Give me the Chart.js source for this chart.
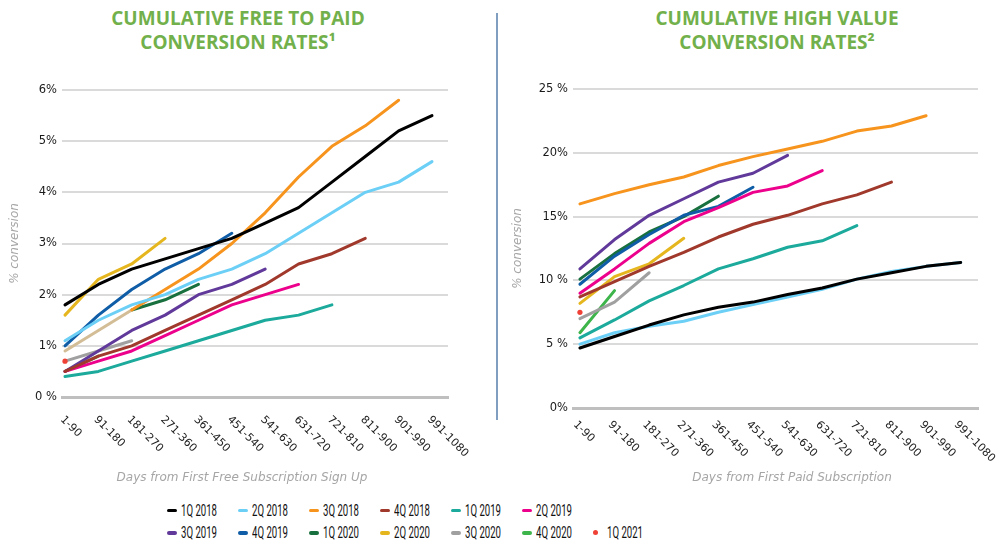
<!DOCTYPE html>
<html>
<head>
<meta charset="utf-8">
<script src="https://cdn.jsdelivr.net/npm/chart.js@4.4.1/dist/chart.umd.min.js"></script>
<style>
    body { margin: 0; background: #fff; }
    #page { position: relative; width: 997px; height: 544px; overflow: hidden; }
    .chart-title {
        position: absolute; top: 6px; margin: 0; text-align: center;
        font-family: 'Open Sans', sans-serif; font-weight: 700; font-size: 19px;
        line-height: 24px; color: #72B04C;
    }
    #title-left { left: 0; width: 476px; }
    #title-right { left: 557px; width: 440px; }
    .x-title {
        position: absolute; top: 468px; text-align: center; white-space: nowrap;
        font-family: 'DejaVu Sans', sans-serif; font-style: italic; font-size: 12px;
        line-height: 18px; color: #A6A6A6;
    }
    #xtitle-left { left: 42px; width: 400px; }
    #xtitle-right { left: 592px; width: 400px; }
    #divider { position: absolute; left: 496px; top: 13px; width: 2px; height: 407px; background: #7F9EC0; }
    canvas { position: absolute; top: 0; }
    #ftp-canvas { left: 0; }
    #hv-canvas { left: 497px; }
    #legend {
        position: absolute; left: 167px; top: 499px;
        font-family: 'Roboto', sans-serif; font-size: 16px; color: #111;
    }
    .legend-row { display: flex; height: 22.6px; align-items: center; }
    .legend-item { width: 71px; display: flex; align-items: center; white-space: nowrap; }
    .legend-line { width: 10px; height: 3.5px; border-radius: 2px; margin-right: 4px; flex: none; }
    .legend-dot { width: 5px; height: 5px; border-radius: 50%; margin: 0 9px 0 0; flex: none; }
    .legend-text { display: inline-block; transform: scaleX(0.6); transform-origin: left center; }
</style>
</head>
<body>
<div id="page">
    <h2 class="chart-title" id="title-left">CUMULATIVE FREE TO PAID<br>CONVERSION RATES¹</h2>
    <h2 class="chart-title" id="title-right">CUMULATIVE HIGH VALUE<br>CONVERSION RATES²</h2>
    <div id="divider"></div>
    <canvas id="ftp-canvas" width="497" height="490"></canvas>
    <canvas id="hv-canvas" width="500" height="490"></canvas>
    <div class="x-title" id="xtitle-left">Days from First Free Subscription Sign Up</div>
    <div class="x-title" id="xtitle-right">Days from First Paid Subscription</div>
    <div id="legend"></div>
</div>
<script>
// ========== Data
const dayBuckets = ['1-90', '91-180', '181-270', '271-360', '361-450', '451-540',
    '541-630', '631-720', '721-810', '811-900', '901-990', '991-1080'];
const cohorts = ['1Q 2018', '2Q 2018', '3Q 2018', '4Q 2018', '1Q 2019', '2Q 2019',
    '3Q 2019', '4Q 2019', '1Q 2020', '2Q 2020', '3Q 2020', '4Q 2020', '1Q 2021'];

const freeToPaidTicks = ['0 %', '1%', '2%', '3%', '4%', '5%', '6%'];
const highValueTicks = ['0%', '5 %', '10 %', '15%', '20%', '25 %'];

// free to paid, % per cohort
const freeToPaid1Q2018 = [1.8, 2.2, 2.5, 2.7, 2.9, 3.1, 3.4, 3.7, 4.2, 4.7, 5.2, 5.5];
const freeToPaid2Q2018 = [1.1, 1.5, 1.8, 2.0, 2.3, 2.5, 2.8, 3.2, 3.6, 4.0, 4.2, 4.6];
const freeToPaid3Q2018 = [0.9, 1.3, 1.7, 2.1, 2.5, 3.0, 3.6, 4.3, 4.9, 5.3, 5.8];
const freeToPaid4Q2018 = [0.5, 0.8, 1.0, 1.3, 1.6, 1.9, 2.2, 2.6, 2.8, 3.1];
const freeToPaid1Q2019 = [0.4, 0.5, 0.7, 0.9, 1.1, 1.3, 1.5, 1.6, 1.8];
const freeToPaid2Q2019 = [0.5, 0.7, 0.9, 1.2, 1.5, 1.8, 2.0, 2.2];
const freeToPaid3Q2019 = [0.5, 0.9, 1.3, 1.6, 2.0, 2.2, 2.5];
const freeToPaid4Q2019 = [1.0, 1.6, 2.1, 2.5, 2.8, 3.2];
const freeToPaid1Q2020 = [null, null, 1.7, 1.9, 2.2];
const freeToPaid2Q2020 = [1.6, 2.3, 2.6, 3.1];
const freeToPaid3Q2020 = [0.7, 0.9, 1.1];
const freeToPaid4Q2020 = [0.5, 0.8];
const freeToPaid1Q2021 = [0.7];

// high value, % per cohort
const highValue1Q2018 = [4.7, 5.6, 6.5, 7.3, 7.9, 8.3, 8.9, 9.4, 10.1, 10.6, 11.1, 11.4];
const highValue2Q2018 = [5.0, 5.9, 6.4, 6.8, 7.5, 8.1, 8.7, 9.3, 10.1, 10.7, 11.1, 11.4];
const highValue3Q2018 = [16.0, 16.8, 17.5, 18.1, 19.0, 19.7, 20.3, 20.9, 21.7, 22.1, 22.9];
const highValue4Q2018 = [8.7, 9.9, 11.1, 12.2, 13.4, 14.4, 15.1, 16.0, 16.7, 17.7];
const highValue1Q2019 = [5.5, 6.9, 8.4, 9.6, 10.9, 11.7, 12.6, 13.1, 14.3];
const highValue2Q2019 = [9.0, 10.9, 12.9, 14.6, 15.7, 16.9, 17.4, 18.6];
const highValue3Q2019 = [10.9, 13.2, 15.1, 16.4, 17.7, 18.4, 19.8];
const highValue4Q2019 = [9.7, 11.9, 13.6, 15.1, 15.8, 17.3];
const highValue1Q2020 = [10.1, 12.1, 13.8, 15.0, 16.6];
const highValue2Q2020 = [8.2, 10.3, 11.3, 13.3];
const highValue3Q2020 = [7.0, 8.3, 10.6];
const highValue4Q2020 = [5.9, 9.2];
const highValue1Q2021 = [7.5];

// ========== Colors
const cohortColors = ['#000000', '#6CCFF6', '#F7941D', '#A0392C', '#1BAA9B', '#EC008C',
    '#60399A', '#0F5DA6', '#17703D', '#E6B61F', '#A0A0A0', '#3DB54A', '#EF4136'];
let earlySegmentColor = '#D3BD96';
let gridColor = '#DADADA';
let baseColor = '#BFBFBF';
let axisTitleColor = '#A6A6A6';

// @ ========== slanted day labels under the x axis
const slantedLabels = {
    id: 'slantedLabels',
    afterDraw(chart, args, opts) {
        const xScale = chart.scales.x;
        const ctx = chart.ctx;
        ctx.save();
        ctx.font = '11px "DejaVu Sans"';
        ctx.fillStyle = '#222';
        ctx.textAlign = 'left';
        ctx.textBaseline = 'top';
        dayBuckets.forEach((label, i) => {
            ctx.save();
            ctx.translate(xScale.getPixelForValue(i) + opts.dx, xScale.top + opts.dy);
            ctx.rotate(Math.PI / 4);
            ctx.fillText(label, 0, 0);
            ctx.restore();
        });
        ctx.restore();
    }
};

function makeDataset(label, values, color) {
    const single = values.length === 1;
    return {
        label: label,
        data: values.map((v, i) => ({ x: i, y: v })),
        borderColor: color,
        backgroundColor: color,
        borderWidth: 3,
        borderJoinStyle: 'round',
        borderCapStyle: 'round',
        pointRadius: single ? 2.6 : 0,
        pointBorderWidth: 0,
        order: single ? -1 : 0,   // the lone dot sits on top of the other lines
        tension: 0
    };
}

function makeOptions(cfg) {
    return {
        responsive: false,
        animation: false,
        layout: { padding: cfg.padding },
        plugins: {
            legend: { display: false },
            tooltip: { enabled: false },
            slantedLabels: cfg.labelShift
        },
        scales: {
            x: {
                type: 'linear',
                min: cfg.xMin,
                max: cfg.xMax,
                grid: { display: false },
                border: { display: true, color: baseColor, width: 3 },
                ticks: { display: false, stepSize: 1 },
                afterFit: (scale) => { scale.height = cfg.xHeight; }
            },
            y: {
                min: 0,
                max: cfg.yMax,
                grid: {
                    drawTicks: false,
                    lineWidth: 2,
                    color: (c) => c.tick.value === 0 ? 'transparent' : gridColor
                },
                border: { display: false },
                ticks: {
                    stepSize: cfg.yStep,
                    padding: 5,
                    color: '#1a1a1a',
                    font: { family: 'DejaVu Sans', size: 11.5 },
                    callback: (value) => cfg.tickLabels[Math.round(value / cfg.yStep)]
                },
                title: {
                    display: true,
                    text: '% conversion',
                    color: axisTitleColor,
                    font: { family: 'DejaVu Sans', size: 12, style: 'italic' },
                    padding: { top: cfg.yTitlePad, bottom: 0 }
                },
                afterFit: (scale) => { scale.width = cfg.yWidth; }
            }
        }
    };
}

// @ ========== Cumulative free to paid
function renderFreeToPaidChart() {
    const series = [freeToPaid1Q2018, freeToPaid2Q2018, freeToPaid3Q2018, freeToPaid4Q2018,
        freeToPaid1Q2019, freeToPaid2Q2019, freeToPaid3Q2019, freeToPaid4Q2019,
        freeToPaid1Q2020, freeToPaid2Q2020, freeToPaid3Q2020, freeToPaid4Q2020, freeToPaid1Q2021];
    const datasets = series.map((s, i) => makeDataset(cohorts[i], s, cohortColors[i]));
    // first two steps of 3Q 2018 are drawn in tan in the source
    datasets[2].segment = { borderColor: (c) => c.p1DataIndex <= 2 ? earlySegmentColor : undefined };

    var ftpCanvas = document.getElementById('ftp-canvas');
    return new Chart(ftpCanvas, {
        type: 'line',
        data: { datasets: datasets },
        options: makeOptions({
            padding: { left: 0, right: 49, top: 90, bottom: 0 },
            xMin: -0.09, xMax: 11.48, xHeight: 93, yWidth: 62,
            yMax: 6, yStep: 1, tickLabels: freeToPaidTicks, yTitlePad: 8,
            labelShift: { dx: 1, dy: 17 }
        }),
        plugins: [slantedLabels]
    });
}

// @ ========== Cumulative high value
function renderHighValueChart() {
    const series = [highValue1Q2018, highValue2Q2018, highValue3Q2018, highValue4Q2018,
        highValue1Q2019, highValue2Q2019, highValue3Q2019, highValue4Q2019,
        highValue1Q2020, highValue2Q2020, highValue3Q2020, highValue4Q2020, highValue1Q2021];
    const datasets = series.map((s, i) => makeDataset(cohorts[i], s, cohortColors[i]));

    var hvCanvas = document.getElementById('hv-canvas');
    return new Chart(hvCanvas, {
        type: 'line',
        data: { datasets: datasets },
        options: makeOptions({
            padding: { left: 0, right: 19, top: 89, bottom: 0 },
            xMin: -0.2, xMax: 11.5, xHeight: 82, yWidth: 76,
            yMax: 25, yStep: 5, tickLabels: highValueTicks, yTitlePad: 14,
            labelShift: { dx: -1, dy: 11 }
        }),
        plugins: [slantedLabels]
    });
}

// @ ========== Shared legend
function renderLegend() {
    const legend = document.getElementById('legend');
    [cohorts.slice(0, 6), cohorts.slice(6)].forEach((row, r) => {
        const rowEl = document.createElement('div');
        rowEl.className = 'legend-row';
        row.forEach((name, j) => {
            const idx = r * 6 + j;
            const item = document.createElement('div');
            item.className = 'legend-item';
            const mark = document.createElement('span');
            mark.className = idx === cohorts.length - 1 ? 'legend-dot' : 'legend-line';
            mark.style.background = cohortColors[idx];
            const text = document.createElement('span');
            text.className = 'legend-text';
            text.textContent = name;
            item.appendChild(mark);
            item.appendChild(text);
            rowEl.appendChild(item);
        });
        legend.appendChild(rowEl);
    });
}

renderFreeToPaidChart();
renderHighValueChart();
renderLegend();
</script>
</body>
</html>
